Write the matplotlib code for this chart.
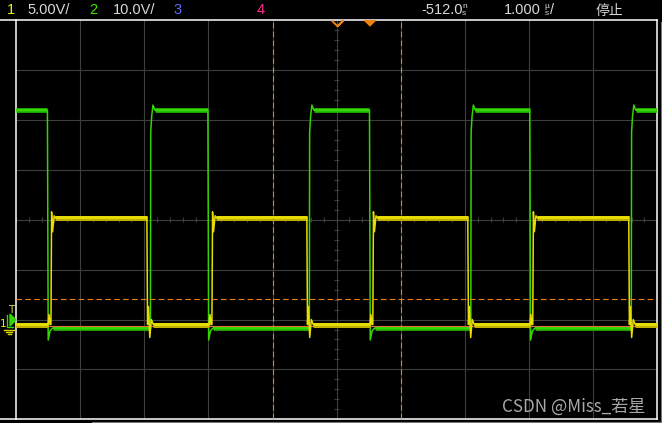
import numpy as np
import matplotlib
matplotlib.use('Agg')
import matplotlib.pyplot as plt
from matplotlib.lines import Line2D
from matplotlib.patches import Polygon

W, H = 662, 423

# scope settings
ch1_scale = 5.0      # V/div
ch2_scale = 10.0     # V/div
ch1_pos = -2.0       # ground marker, div
ch2_pos = -2.0
ch4_pos = -2.13
time_scale = 1.0     # us/div
time_delay = -0.512  # us at screen centre
trig_time = 0.0
trig_level = 4.1     # V on ch2
cursor_t = [-1.51, 0.49]

# channel 1 (yellow) and channel 2 (green) square waves, volts / us
ch1_low, ch1_high = -0.5, 10.2
ch2_low, ch2_high = -1.7, 42.0
ch1_rise = [-4.967, -2.457, 0.052, 2.546]
ch1_fall = [-3.471, -0.977, 1.533, 4.043]
ch2_rise = [-3.416, -0.938, 1.580, 4.082]
ch2_fall = [-5.022, -2.520, 0.0, 2.500]

# edge shapes (dt from edge, volts) incl. ringing
ch1_rise_shape = [(-0.045, -0.5), (-0.03, 0.5), (-0.015, -0.5), (0.0, -0.5),
                  (0.01, 10.8), (0.025, 8.8), (0.05, 10.4), (0.07, 10.2)]
ch1_fall_shape = [(0.0, 10.2), (0.01, -0.5), (0.025, 1.3), (0.045, -1.8),
                  (0.07, 0.0), (0.1, -0.5)]
ch2_rise_shape = [(0.0, -1.7), (0.005, 37.6), (0.02, 40.8), (0.04, 43.0), (0.07, 42.0)]
ch2_fall_shape = [(0.0, 42.0), (0.012, -4.1), (0.04, -2.3), (0.08, -1.7)]


def build_trace(t0, t1, start, rises, falls, rise_shape, fall_shape):
    edges = sorted([(t, rise_shape) for t in rises] + [(t, fall_shape) for t in falls])
    ts, vs, flats = [t0], [start], []
    last_t, last_v = t0, start
    for te, shape in edges:
        flats.append((last_t, te + shape[0][0], last_v))
        for dt, v in shape:
            ts.append(te + dt)
            vs.append(v)
        last_t, last_v = te + shape[-1][0], shape[-1][1]
    flats.append((last_t, t1, last_v))
    ts.append(t1)
    vs.append(last_v)
    return np.array(ts), np.array(vs), flats


def fx(x):
    return x / W


def fy(y):
    return 1 - y / H


fig = plt.figure(figsize=(W / 100, H / 100), dpi=100, facecolor='black')
ax = fig.add_axes([fx(16), fy(419.3), (657.3 - 16) / W, (419.3 - 20.3) / H])
ax.set_facecolor('black')
t_left, t_right = time_delay - 5 * time_scale, time_delay + 5 * time_scale
ax.set_xlim(t_left, t_right)
ax.set_ylim(-4, 4)
ax.set_xticks([])
ax.set_yticks([])
for s in ax.spines.values():
    s.set_color('white')
    s.set_linewidth(1.1)

# graticule
grid_c = '#3e3e3e'
for k in range(-4, 5):
    ax.axvline(time_delay + k * time_scale, color=grid_c, lw=0.8, zorder=1)
for k in range(-3, 4):
    ax.axhline(k, color=grid_c, lw=0.8, zorder=1)
ax.hlines(np.arange(-4, 4.01, 0.2), time_delay - 0.04, time_delay + 0.04, color=grid_c, lw=0.8, zorder=1)
ax.vlines(time_delay + np.arange(-5, 5.01, 0.2) * time_scale, -0.05, 0.05, color=grid_c, lw=0.8, zorder=1)

# traces
t2, v2, flats2 = build_trace(t_left, t_right, ch2_high, ch2_rise, ch2_fall, ch2_rise_shape, ch2_fall_shape)
t1, v1, flats1 = build_trace(t_left, t_right, ch1_low, ch1_rise, ch1_fall, ch1_rise_shape, ch1_fall_shape)

for a, b, v in flats2:
    ax.hlines(ch2_pos + v / ch2_scale, a, b, color='#22b800', lw=3.4, zorder=3)
    ax.hlines(ch2_pos + v / ch2_scale + 0.01, a, b, color='#3ee600', lw=1.6, zorder=3)
ax.plot(t2, ch2_pos + v2 / ch2_scale, color='#33d400', lw=1.1, zorder=3)

ax.axhline(ch4_pos, color='#e0703a', lw=0.8, zorder=3.5)

for a, b, v in flats1:
    ax.hlines(ch1_pos + v / ch1_scale, a, b, color='#c0b000', lw=3.6, zorder=4)
    ax.hlines(ch1_pos + v / ch1_scale + 0.01, a, b, color='#f2e800', lw=1.8, zorder=4)
ax.plot(t1, ch1_pos + v1 / ch1_scale, color='#e8dc00', lw=1.1, zorder=4)

# cursors / trigger level
orange = '#f08010'
for tc in cursor_t:
    ax.axvline(tc, color=orange, lw=0.8, ls=(0, (5, 3)), zorder=5)
ax.axhline(ch2_pos + trig_level / ch2_scale, color=orange, lw=0.8, ls=(0, (5, 3)), zorder=5)

# trigger markers at the top
ax.plot([trig_time], [3.94], marker=[(-1, 0.5), (1, 0.5), (0, -0.5)], ms=8,
        color=orange, mec=orange, clip_on=False, zorder=6)
ax.plot([time_delay], [3.94], marker=[(-1, 0.5), (0, -0.5), (1, 0.5), (0, -0.5)], ms=8,
        color=orange, mfc='none', mec=orange, mew=1.4, clip_on=False, zorder=6)

# frame bits outside the graticule
fig.add_artist(Line2D([0, fx(16)], [fy(20.3), fy(20.3)], color='white', lw=1.1))
fig.add_artist(Line2D([0, fx(16)], [fy(419.3), fy(419.3)], color='white', lw=1.1))
fig.add_artist(Line2D([fx(660.5), fx(660.5)], [fy(22), 0], color='#777777', lw=0.8))
fig.add_artist(Line2D([fx(92), 1], [fy(421.8), fy(421.8)], color='#777777', lw=0.8))

# header
hdr = dict(family='Liberation Sans', fontsize=10.5, va='baseline')
fig.text(fx(7), fy(14.5), '1', color='#f0f000', **hdr)
fig.text(fx(27), fy(14.5), '5.00V/', color='#d8d8d8', **hdr)
fig.text(fx(89), fy(14.5), '2', color='#3ee600', **hdr)
fig.text(fx(113), fy(14.5), '10.0V/', color='#d8d8d8', **hdr)
fig.text(fx(173), fy(14.5), '3', color='#5a6cff', **hdr)
fig.text(fx(257), fy(14.5), '4', color='#ff2a8a', **hdr)
fig.text(fx(421), fy(14.5), '-512.0', color='#d8d8d8', **hdr)
small = dict(color='#d8d8d8', family='Liberation Sans', fontsize=6, va='baseline')
fig.text(fx(462), fy(8.5), 'n', **small)
fig.text(fx(462), fy(15), 's', **small)
fig.text(fx(504), fy(14.5), '1.000', color='#d8d8d8', **hdr)
fig.text(fx(544.5), fy(8.5), 'µ', **small)
fig.text(fx(544.5), fy(15), 's', **small)
fig.text(fx(550), fy(14.5), '/', color='#d8d8d8', **hdr)
fig.text(fx(596), fy(14.5), '停止', color='#d8d8d8', family=['Noto Sans CJK SC', 'DejaVu Sans'],
         fontsize=10, va='baseline')

# left side channel / trigger markers
fig.text(fx(11.5), fy(313), 'T', color='#e8d850', family='DejaVu Sans', fontsize=7.5, ha='center', va='baseline')
fig.text(fx(0), fy(327), '1', color='#f0f000', family='DejaVu Sans', fontsize=7.5, va='baseline')
fig.add_artist(Polygon([(fx(10), fy(314)), (fx(16), fy(320)), (fx(10), fy(326))], closed=True,
                       color='#33d400'))
fig.add_artist(Line2D([fx(7), fx(7), fx(13)], [fy(315), fy(327), fy(327)], color='#33d400', lw=1.0))
for yy, half in [(330, 5), (332, 3), (334, 1.5)]:
    fig.add_artist(Line2D([fx(9 - half), fx(9 + half)], [fy(yy), fy(yy)], color='#e0d800', lw=1.0))

# watermark
fig.text(fx(645), fy(412), 'CSDN @Miss_若星', color='#a8a8a8', family=['Noto Sans CJK SC', 'DejaVu Sans'],
         fontsize=12.3, ha='right', va='baseline')

fig.savefig('out.png', dpi=100, facecolor='black')
